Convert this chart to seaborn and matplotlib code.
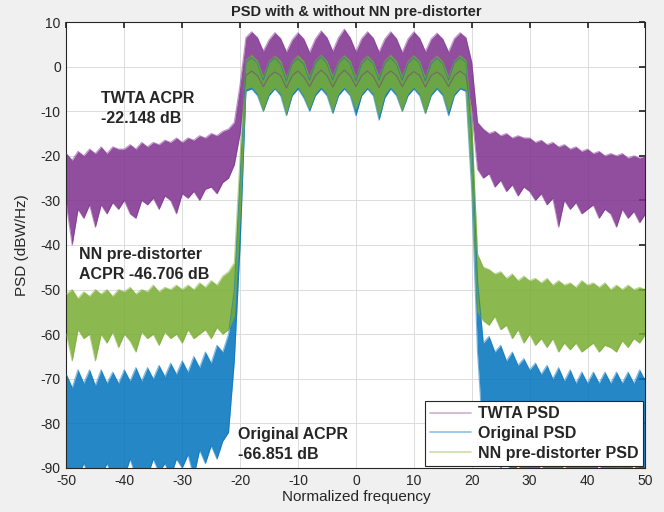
import numpy as np
import pandas as pd
import seaborn as sns
import matplotlib.pyplot as plt
from matplotlib.lines import Line2D

# normalized frequency grid, one point per unit
freq = np.arange(-50, 51)

# TWTA PSD envelope (upper / lower), dBW/Hz
twta_hi = [-19.5, -21, -19, -20, -18.5, -19.5, -18, -19.5, -18, -18.5,
           -18.5, -17.5, -18.5, -17, -18, -17, -17.5, -16.5, -17, -16,
           -17, -16, -16.5, -15.5, -16, -15, -15.5, -14.5, -14, -12.5,
           -4,
           6.5, 7.8, 6.5, 3.5, 6, 7.6, 6.3, 3.3, 6, 7.6,
           6.2, 3.2, 6.2, 8, 6.5, 3.5, 6.5, 8.4, 6.5, 3.4,
           6.3, 7.8, 6.4, 3.3, 6.2, 7.8, 6.3, 3.2, 6.2, 7.8,
           6.4, 3.4, 6.2, 7.5, 6.2, 3.3, 6.3, 7.6, 6.5,
           1,
           -12.5, -14, -15, -14.5, -15.5, -15, -16, -15.5, -16, -16,
           -17, -16.5, -17.5, -17, -18, -17.5, -18.5, -18, -19, -18.5,
           -19.5, -19, -20, -19.5, -20, -19.5, -20.5, -20, -20.5, -20]
twta_lo = [-31, -40, -32, -34, -31, -36, -31, -33, -30.5, -32,
           -30, -33, -34, -30, -31, -29.5, -32, -29, -30, -33,
           -28.5, -29.5, -28, -30, -27.5, -27, -28.5, -26, -25, -22,
           -15,
           -2, -1, -2, -4.5, -2.2, -1.2, -2, -4.8, -2, -1,
           -2.3, -4.5, -2, -0.8, -2, -4.6, -2.1, -0.8, -2, -4.5,
           -2, -1, -2.2, -4.7, -2, -1, -2, -4.5, -2.2, -1.1,
           -2, -4.6, -2, -1.2, -2.2, -4.5, -2, -1, -2,
           -10,
           -23, -25, -24, -27, -25.5, -28, -26.5, -29, -27, -28,
           -30, -28.5, -31, -29.5, -36, -30, -32, -30.5, -33, -32,
           -31, -34, -32, -33, -36, -32, -34, -32.5, -35, -33]

# Original PSD envelope
orig_hi = [-69, -72, -68, -71, -68, -71.5, -68, -71, -68.5, -71,
           -68, -70.5, -67.5, -70.5, -67.5, -70, -67, -69.5, -66.5, -69,
           -66, -68.5, -65, -67.5, -64, -66.5, -62.5, -64, -60, -50,
           -25,
           1, 2, 0.8, -3, 0.8, 2, 0.6, -3.2, 0.7, 1.8,
           0.6, -3, 0.8, 2.2, 0.7, -3, 0.8, 2, 0.8, -3.2,
           0.6, 1.9, 0.7, -3, 0.8, 2, 0.6, -3, 0.7, 2,
           0.8, -3.2, 0.6, 1.9, 0.7, -3, 0.8, 2, 1,
           -15,
           -48, -62, -60.5, -64, -62.5, -66, -64, -67, -65.5, -68,
           -66.5, -69, -67, -70, -67.5, -70.5, -68, -71, -68.5, -71,
           -68.5, -71, -68.5, -71, -68.5, -71, -68.5, -71, -68, -70.5]
orig_lo = [-92, -90, -92, -89, -92, -91, -92, -89, -92, -90,
           -92, -88, -92, -90, -92, -88, -91, -89, -92, -88,
           -90, -87, -92, -86, -89, -85, -88, -84, -82, -66,
           -40,
           -5.5, -5, -6.5, -10, -6.5, -5, -6.5, -11, -6.5, -5,
           -7, -10, -6.5, -5, -6.5, -10.5, -6.5, -5, -6.5, -11,
           -6.5, -5, -6.5, -12, -7, -5, -6.5, -10, -6.5, -5,
           -6.5, -10.5, -6.5, -5, -6.5, -11, -6.5, -5, -5.5,
           -28,
           -64, -84, -88, -86, -90, -88, -92, -89, -92, -90,
           -92, -89, -92, -91, -92, -89, -92, -90, -92, -91,
           -92, -89, -92, -90, -92, -91, -92, -89, -92, -90]

# NN pre-distorter PSD envelope
nn_hi = [-51, -50, -52, -50.5, -51.5, -50, -51, -50, -51.5, -50,
         -50.5, -49.5, -51, -50, -50.5, -49, -50.5, -49.5, -50, -49,
         -50, -49, -50, -48.5, -49.5, -48, -49, -47, -46, -44,
         -20,
         1.5, 2.6, 1.3, -2.3, 1.2, 2.4, 1.3, -2.5, 1.1, 2.5,
         1.2, -2.4, 1.3, 2.6, 1.2, -2.2, 1.2, 2.5, 1.3, -2.5,
         1.2, 2.4, 1.1, -2.4, 1.3, 2.6, 1.2, -2.3, 1.2, 2.5,
         1.2, -2.5, 1.3, 2.4, 1.1, -2.4, 1.2, 2.5, 1.4,
         -12,
         -42, -45, -45.5, -46.5, -46, -47.5, -46.5, -48, -47, -48,
         -47.5, -48.5, -47.5, -49, -48, -49, -48.5, -49.5, -48, -49,
         -48.5, -49.5, -48.5, -50, -49, -50, -49, -50, -49.5, -50]
nn_lo = [-60, -66, -59, -61, -60, -66, -60, -62, -59.5, -63,
         -60, -61.5, -64, -59.5, -61, -60, -62.5, -59.5, -61, -60,
         -62, -59, -61, -60, -59, -61, -58.5, -60, -59, -56,
         -34,
         -5, -4.5, -6, -10, -6, -4.8, -6, -10.5, -6, -4.5,
         -6.5, -9.5, -6, -4.5, -6, -10, -6, -4.5, -6.2, -9.5,
         -6, -4.6, -6, -11, -6.2, -4.5, -6, -10, -6, -4.6,
         -6, -10.5, -6.1, -4.5, -6, -10, -6, -4.7, -5,
         -25,
         -55, -57, -58, -56, -59, -58, -61, -59, -62, -60,
         -62.5, -61, -63, -61, -64, -62, -63.5, -62, -64, -63,
         -62, -64, -62.5, -63, -64, -61.5, -63, -61, -62, -60]

labels = ['TWTA PSD', 'Original PSD', 'NN pre-distorter PSD']
colors = ['#7E2F8E', '#0072BD', '#77AC30']
# legend swatches are the faded versions of the trace colours
legend_colors = ['#cdb0d3', '#8fc0e4', '#c6dea8']
env = {'TWTA PSD': (twta_hi, twta_lo),
       'Original PSD': (orig_hi, orig_lo),
       'NN pre-distorter PSD': (nn_hi, nn_lo)}

rows = []
for name in labels:
    hi, lo = env[name]
    for edge, vals in (('hi', hi), ('lo', lo)):
        for f, v in zip(freq, vals):
            rows.append((f, v, name, edge))
df = pd.DataFrame(rows, columns=['freq', 'psd', 'series', 'edge'])

sns.set_theme(style='whitegrid')
plt.rcParams['font.family'] = ['Liberation Sans', 'DejaVu Sans']
plt.rcParams['axes.unicode_minus'] = False

fig, ax = plt.subplots(figsize=(6.64, 5.12), dpi=100)
fig.patch.set_facecolor('#f0f0f0')
ax.set_facecolor('white')
fig.subplots_adjust(left=0.100, right=0.972, top=0.957, bottom=0.086)

# dense band of traces -> filled envelope, then the ragged envelope edges
for name, c in zip(labels, colors):
    hi, lo = env[name]
    ax.fill_between(freq, lo, hi, color=c, alpha=0.85, lw=0, zorder=2)
sns.lineplot(data=df, x='freq', y='psd', hue='series', units='edge',
             estimator=None, palette=dict(zip(labels, colors)),
             lw=0.8, alpha=0.5, legend=False, ax=ax, zorder=3)

ax.set_xlim(-50, 50)
ax.set_ylim(-90, 10)
ax.set_xticks(range(-50, 51, 10))
ax.set_yticks(range(-90, 11, 10))
ax.grid(True, color='#dcdcdc', lw=0.7)
ax.tick_params(direction='in', length=4, top=True, right=True,
               labelsize=10, colors='#262626', pad=4)
for s in ax.spines.values():
    s.set_color('#262626')
    s.set_linewidth(0.8)

ax.set_title('PSD with & without NN pre-distorter', fontsize=10.5,
             fontweight='bold', pad=4)
ax.set_xlabel('Normalized frequency', fontsize=11, labelpad=2)
ax.set_ylabel('PSD (dBW/Hz)', fontsize=11, labelpad=8)

ax.text(-44, -9.4, 'TWTA ACPR\n-22.148 dB', fontsize=11.5,
        fontweight='bold', va='center', linespacing=1.4, zorder=5)
ax.text(-47.8, -44.3, 'NN pre-distorter\nACPR -46.706 dB', fontsize=11.5,
        fontweight='bold', va='center', linespacing=1.4, zorder=5)
ax.text(-20.4, -84.8, 'Original ACPR\n-66.851 dB', fontsize=11.5,
        fontweight='bold', va='center', linespacing=1.4, zorder=5)

handles = [Line2D([], [], color=c, lw=1.2) for c in legend_colors]
leg = ax.legend(handles, labels, loc='lower right', fontsize=11.5,
                frameon=True, fancybox=False, borderaxespad=0.15,
                handlelength=2.6, labelspacing=0.3, borderpad=0.3,
                handletextpad=0.4)
for t in leg.get_texts():
    t.set_fontweight('bold')
leg.get_frame().set_edgecolor('#262626')
leg.get_frame().set_linewidth(0.8)
leg.get_frame().set_alpha(1)
leg.set_zorder(6)

fig.savefig('out.png', dpi=100, facecolor=fig.get_facecolor())
